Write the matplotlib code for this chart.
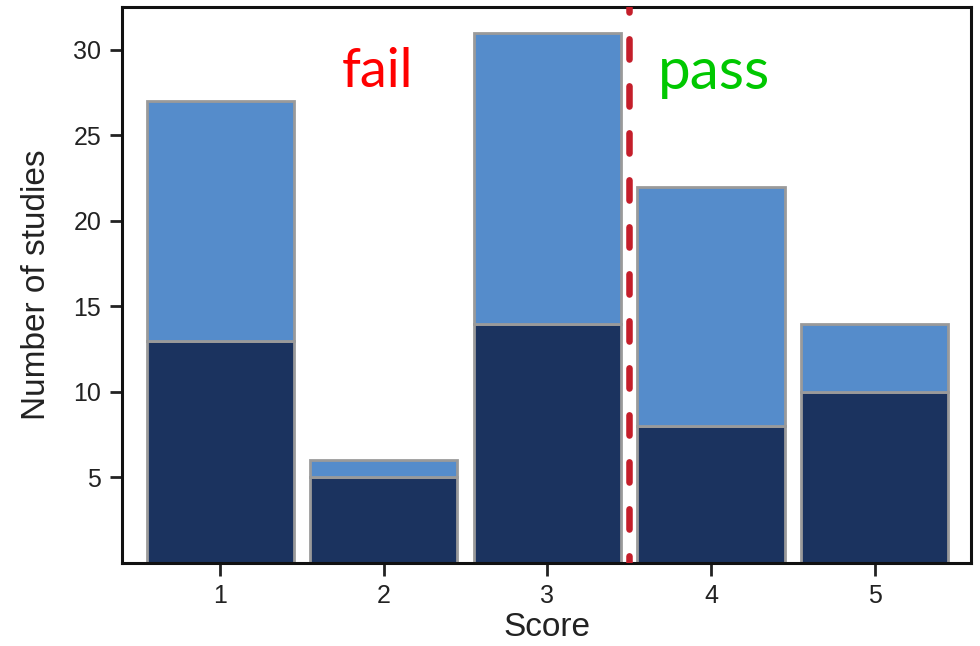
import matplotlib
matplotlib.use("Agg")
import matplotlib.pyplot as plt

scores = [1, 2, 3, 4, 5]
dark_counts = [13, 5, 14, 8, 10]
total_counts = [27, 6, 31, 22, 14]
light_counts = [t - d for t, d in zip(total_counts, dark_counts)]
yticks = [5, 10, 15, 20, 25, 30]
threshold = 3.5

plt.rcParams['font.family'] = ['Liberation Sans', 'DejaVu Sans']

fig = plt.figure(figsize=(9.8, 6.46), dpi=100)
ax = fig.add_axes([0.1245, 0.1285, 0.8665, 0.8605])

edge = '#9a9a9a'
ax.bar(scores, dark_counts, width=0.9, color='#1b335f', edgecolor=edge, linewidth=2, zorder=2)
ax.bar(scores, light_counts, width=0.9, bottom=dark_counts, color='#558ccb',
       edgecolor=edge, linewidth=2, zorder=2)

ax.axvline(threshold, color='#c41e2a', linewidth=4.7, linestyle=(2.0, (3.1, 4.1)),
           dash_capstyle='round', zorder=3)

ax.text(1.96, 27.8, 'fail', color='#ff0000', fontsize=39, ha='center', va='baseline',
        family=['Lato', 'DejaVu Sans'])
ax.text(4.02, 27.7, 'pass', color='#00c800', fontsize=42, ha='center', va='baseline',
        family=['Lato', 'DejaVu Sans'])

ax.set_xlim(0.4, 5.59)
ax.set_ylim(0, 32.5)
ax.set_xticks(scores)
ax.set_yticks(yticks)
ax.tick_params(axis='both', labelsize=18, length=9, width=2, colors='#222222', pad=6)
for s in ax.spines.values():
    s.set_linewidth(2.2)
    s.set_color('#111111')

ax.set_xlabel('Score', fontsize=24, color='#222222', labelpad=3)
ax.set_ylabel('Number of studies', fontsize=24, color='#222222', labelpad=15)

fig.savefig('out.png', dpi=100)
